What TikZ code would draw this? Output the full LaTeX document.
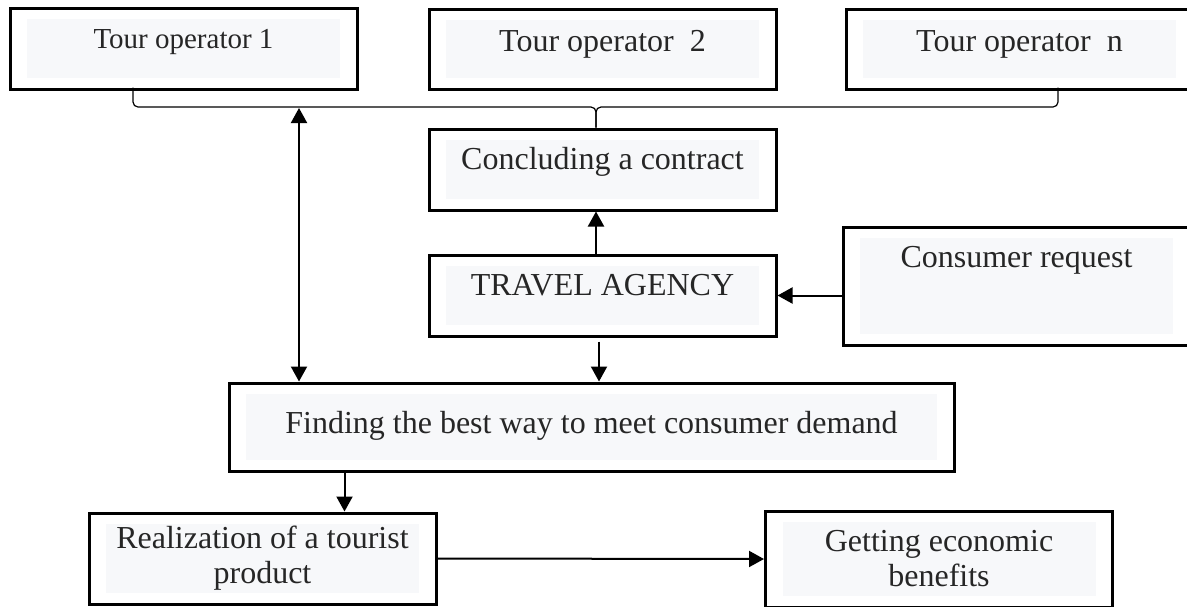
\documentclass[tikz,border=0pt]{standalone}
\usepackage{fontspec}
\setmainfont{Liberation Serif}
\usetikzlibrary{arrows.meta}
\definecolor{boxgray}{HTML}{F7F8FA}

\begin{document}
\begin{tikzpicture}[x=0.5pt,y=-0.5pt,->,>={Triangle[length=7.5pt,width=8pt]},line width=1pt]
  \tikzstyle{every node}=[font=\fontsize{16}{17.5}\selectfont,text=black!85]
  \tikzstyle{box}=[draw=black,line width=1.5pt,inner sep=0pt,minimum width=173.5pt,align=center,
    path picture={\fill[boxgray] ([shift={(8.5pt,-5.5pt)}]path picture bounding box.north west)
      rectangle ([shift={(-8.5pt,5.5pt)}]path picture bounding box.south east);}]
  \tikzstyle{brace}=[-,line width=0.6pt,rounded corners=2.5pt]
  \useasboundingbox (0,0) rectangle (1187,606);

  \node[box,font=\fontsize{14.5}{17}\selectfont,text height=20pt,text depth=20.5pt] (op1) at (183.5,48.5) {Tour operator 1};
  \node[box,text height=21pt,text depth=19pt] (op2) at (602.5,49) {Tour operator~~2};
  \node[box,text height=21pt,text depth=19pt] (opn) at (1019.5,49) {Tour operator~~n};
  \node[box,text height=20pt,text depth=20.5pt] (contract) at (602.5,169.5) {Concluding a contract};
  \node[box,text height=20pt,text depth=20.5pt] (agency) at (602.5,295.5) {TRAVEL AGENCY};
  \node[box,text height=20pt,text depth=39pt] (request) at (1016.5,286) {Consumer request};
  \node[box,minimum width=362.5pt,text height=25pt,text depth=19pt] (demand) at (591.5,427) {Finding the best way to meet consumer demand};
  \node[box,minimum height=45.5pt] (product) at (262.5,558.5) {Realization of a tourist\\product};
  \node[box,minimum height=48pt] (benefit) at (939,559) {Getting economic\\benefits};

  % brace under the tour operators
  \coordinate (bar) at (0,107);
  \coordinate (bl) at ([shift={(-25.25pt,1.5pt)}]op1.south);
  \coordinate (br) at ([shift={(19.25pt,1.5pt)}]opn.south);
  \coordinate (bm) at ([xshift=-3.25pt]contract.north);
  \draw[brace] (bl) |- (bm |- bar) -- (bm);
  \draw[brace] (br) |- (bm |- bar) -- (bm);

  \coordinate (link) at (299,108);
  \coordinate (a1) at ([shift={(-1.75pt,-2pt)}]agency.south);
  \coordinate (d1) at ([xshift=58.5pt]demand.south west);

  \path (link) edge[<->] (link |- demand.north)
        ([xshift=-3.25pt]agency.north) edge ([xshift=-3.25pt]contract.south)
        (request.west |- agency.east) edge (agency.east)
        (a1) edge (a1 |- demand.north)
        (d1) edge (d1 |- product.north)
        (product.east) edge (benefit.west);
\end{tikzpicture}
\end{document}
